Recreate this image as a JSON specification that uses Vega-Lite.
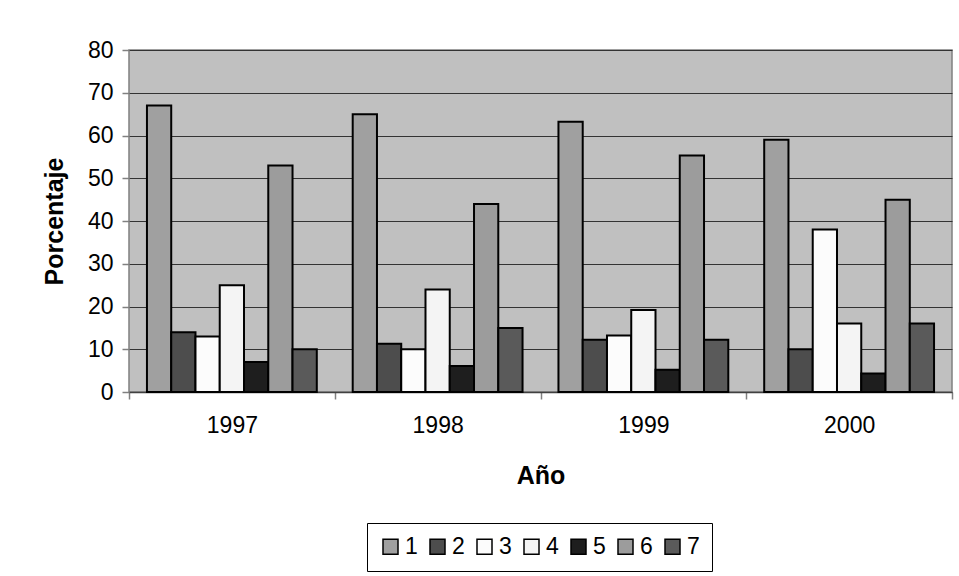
{
  "$schema": "https://vega.github.io/schema/vega-lite/v6.json",
  "width": 823,
  "height": 342,
  "autosize": {"type": "none"},
  "padding": {"left": 129, "top": 50, "right": 7, "bottom": 184},
  "background": "white",
  "config": {
    "font": "Liberation Sans",
    "view": {"fill": "#C0C0C0", "stroke": "#808080", "strokeWidth": 1.5}
  },
  "data": {
    "values": [
      {"anio": "1997", "serie": "1", "valor": 67},
      {"anio": "1997", "serie": "2", "valor": 14},
      {"anio": "1997", "serie": "3", "valor": 13},
      {"anio": "1997", "serie": "4", "valor": 25},
      {"anio": "1997", "serie": "5", "valor": 7},
      {"anio": "1997", "serie": "6", "valor": 53},
      {"anio": "1997", "serie": "7", "valor": 10},
      {"anio": "1998", "serie": "1", "valor": 65},
      {"anio": "1998", "serie": "2", "valor": 11.3},
      {"anio": "1998", "serie": "3", "valor": 10},
      {"anio": "1998", "serie": "4", "valor": 24},
      {"anio": "1998", "serie": "5", "valor": 6.1},
      {"anio": "1998", "serie": "6", "valor": 44},
      {"anio": "1998", "serie": "7", "valor": 15},
      {"anio": "1999", "serie": "1", "valor": 63.2},
      {"anio": "1999", "serie": "2", "valor": 12.2},
      {"anio": "1999", "serie": "3", "valor": 13.2},
      {"anio": "1999", "serie": "4", "valor": 19.2},
      {"anio": "1999", "serie": "5", "valor": 5.2},
      {"anio": "1999", "serie": "6", "valor": 55.3},
      {"anio": "1999", "serie": "7", "valor": 12.2},
      {"anio": "2000", "serie": "1", "valor": 59},
      {"anio": "2000", "serie": "2", "valor": 10},
      {"anio": "2000", "serie": "3", "valor": 38},
      {"anio": "2000", "serie": "4", "valor": 16},
      {"anio": "2000", "serie": "5", "valor": 4.3},
      {"anio": "2000", "serie": "6", "valor": 45},
      {"anio": "2000", "serie": "7", "valor": 16}
    ]
  },
  "mark": {"type": "bar", "stroke": "black", "strokeWidth": 2},
  "encoding": {
    "x": {
      "field": "anio",
      "type": "nominal",
      "scale": {"paddingInner": 0, "paddingOuter": 0},
      "axis": {
        "title": "Año",
        "titleFontSize": 25,
        "titleFontWeight": "bold",
        "titleColor": "black",
        "titleX": 411.5,
        "titleY": 91,
        "titleBaseline": "alphabetic",
        "labelAngle": 0,
        "labelFontSize": 23,
        "labelColor": "black",
        "labelPadding": 15,
        "tickBand": "extent",
        "tickSize": 7,
        "tickWidth": 1.5,
        "tickColor": "#808080",
        "domainColor": "#404040",
        "domainWidth": 1.5,
        "grid": false
      }
    },
    "xOffset": {
      "field": "serie",
      "type": "nominal",
      "scale": {"paddingInner": 0, "paddingOuter": 0.74}
    },
    "y": {
      "field": "valor",
      "type": "quantitative",
      "scale": {"domain": [0, 80], "nice": false},
      "axis": {
        "title": "Porcentaje",
        "titleFontSize": 25,
        "titleFontWeight": "bold",
        "titleColor": "black",
        "titleX": -67,
        "titleY": 171,
        "titleAngle": 270,
        "titleAlign": "center",
        "titleBaseline": "alphabetic",
        "values": [0, 10, 20, 30, 40, 50, 60, 70, 80],
        "labelFontSize": 23,
        "labelColor": "black",
        "labelPadding": 9,
        "tickSize": 7,
        "tickWidth": 1.5,
        "tickColor": "#808080",
        "domain": false,
        "grid": true,
        "gridColor": "#333333",
        "gridWidth": 1
      }
    },
    "fill": {
      "field": "serie",
      "type": "nominal",
      "scale": {
        "domain": ["1", "2", "3", "4", "5", "6", "7"],
        "range": ["#A0A0A0", "#4D4D4D", "#FCFCFC", "#F4F4F4", "#1E1E1E", "#9C9C9C", "#5A5A5A"]
      },
      "legend": {
        "title": null,
        "orient": "none",
        "legendX": 238,
        "legendY": 473,
        "direction": "horizontal",
        "strokeColor": "black",
        "fillColor": "white",
        "padding": 12,
        "symbolType": "square",
        "symbolSize": 225,
        "symbolStrokeColor": "black",
        "symbolStrokeWidth": 1.5,
        "labelFontSize": 23,
        "labelColor": "black",
        "labelOffset": 3,
        "columnPadding": 8
      }
    }
  }
}
